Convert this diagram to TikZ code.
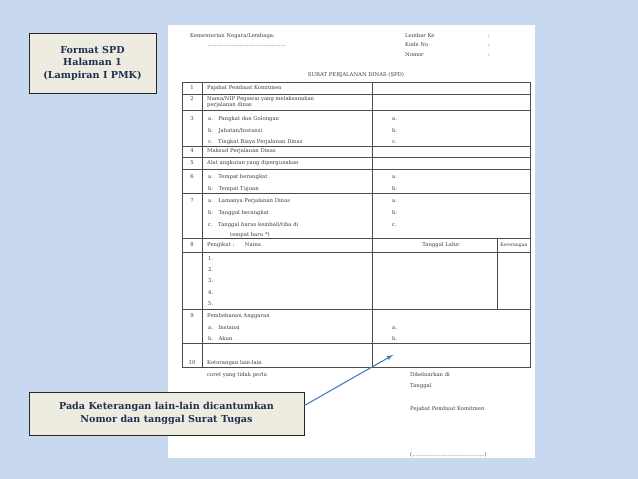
\documentclass[tikz,border=0pt]{standalone}
\usepackage{fontspec}
\setmainfont{DejaVu Serif}
\begin{document}
\begin{tikzpicture}[x=1pt,y=-1pt,
  ft/.style={font=\fontsize{5.3}{6}\selectfont,text=black!75,inner sep=0pt,anchor=west},
  lab/.style={draw=black!85,line width=0.9pt,fill=beige,font=\bfseries\fontsize{9.6}{12.5}\selectfont,text=navy,align=center,inner sep=0pt},
  grid/.style={draw=black!70,line width=0.6pt}]
\definecolor{bgblue}{HTML}{C8D8EE}
\definecolor{beige}{HTML}{EEECE1}
\definecolor{navy}{HTML}{1F3050}
\definecolor{arr}{HTML}{4A7EBB}
\fill[bgblue] (0,0) rectangle (638,479);
\fill[white] (168,25) rectangle (535,458);
\useasboundingbox (0,0) rectangle (638,479);
% header
\node[ft] (km) at (190,36) {Kementerian Negara/Lembaga:};
\node[ft] (dots) at (208,46) {..............................................};
\node[ft] (lk) at (405,36) {Lembar Ke};
\node[ft] (kn) at (405,45) {Kode No};
\node[ft] (nm) at (405,55) {Nomor};
\node[ft] at (488,36) {:};
\node[ft] at (488,45) {:};
\node[ft] at (488,55) {:};
\node[ft,anchor=center] (title) at (356,75) {SURAT PERJALANAN DINAS (SPD)};
% table
\draw[grid] (182,82) rectangle (530,367);
\draw[grid] (202,82) -- (202,367);
\draw[grid] (372,82) -- (372,367);
\draw[grid] (497,238) -- (497,309);
\foreach \y in {94,110,146,157,169,193,238,252,309,343}
  \draw[grid] (182,\y) -- (530,\y);
% numbers
\foreach \n/\y in {1/88,2/99,3/119,4/151,5/163,6/177,7/201,8/245,9/316}
  \node[ft,anchor=center] at (192,\y) {\n};
\node[ft,anchor=center] at (192,363) {10};
\node[ft] at (207,88) {Pajabat Pembuat Komitmen};
\node[ft] at (207,99) {Nama/NIP Pegawai yang melaksanakan};
\node[ft] at (207,105) {perjalanan dinas};
\node[ft] at (208,119) {a.\quad Pangkat dan Golongan};
\node[ft] at (208,131) {b.\quad Jabatan/Instansi};
\node[ft] at (208,142) {c.\quad Tingkat Biaya Perjalanan Dinas};
\node[ft] at (207,151) {Maksud Perjalanan Dinas};
\node[ft] at (207,163) {Alat angkutan yang dipergunakan};
\node[ft] at (208,177) {a.\quad Tempat berangkat};
\node[ft] at (208,189) {b.\quad Tempat Tujuan};
\node[ft] at (208,201) {a.\quad Lamanya Perjalanan Dinas};
\node[ft] at (208,213) {b.\quad Tanggal berangkat};
\node[ft] at (208,225) {c.\quad Tanggal harus kembali/tiba di};
\node[ft] at (230,235) {tempat baru *)};
\node[ft] at (207,245) {Pengikut :\qquad Nama};
\node[ft,anchor=center] at (441,245) {Tanggal Lahir};
\node[ft,anchor=center,font=\fontsize{4.6}{5}\selectfont] at (514,245) {Keterangan};
\foreach \n/\y in {1/259,2/270,3/281,4/293,5/304}
  \node[ft] at (208,\y) {\n.};
\node[ft] at (207,316) {Pembebanan Anggaran};
\node[ft] at (208,328) {a.\quad Instansi};
\node[ft] at (208,339) {b.\quad Akun};
\node[ft] at (207,363) {Keterangan lain-lain};
\foreach \t/\y in {a/119,b/131,c/142,a/177,b/189,a/201,b/213,c/225,a/328,b/339}
  \node[ft] at (392,\y) {\t.};
\node[ft] at (207,375) {coret yang tidak perlu};
\node[ft] at (410,375) {Dikeluarkan di};
\node[ft] at (410,386) {Tanggal};
\node[ft] at (410,409) {Pejabat Pembuat Komitmen};
\node[ft] at (410,455) {(...........................................)};
% labels
\node[lab,minimum width=127pt,minimum height=60pt] (l1) at (92.5,63) {Format SPD\\Halaman 1\\(Lampiran I PMK)};
\node[lab,minimum width=275pt,minimum height=43pt] (l2) at (166.5,413.5) {Pada Keterangan lain-lain dicantumkan\\Nomor dan tanggal Surat Tugas};
\coordinate (tip) at (393,355);
\draw[arr,line width=1.1pt,-latex] (l2.east) ++(0,-8) -- (tip);
\end{tikzpicture}
\end{document}
